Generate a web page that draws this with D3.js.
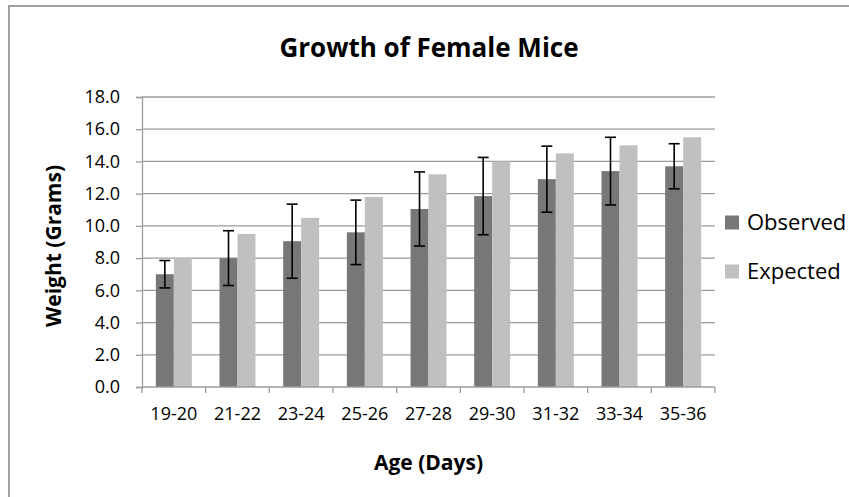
<!DOCTYPE html>
<html>
<head>
<meta charset="utf-8">
<script src="https://cdn.jsdelivr.net/npm/d3@7"></script>
<style>
  html, body { margin: 0; padding: 0; background: #fff; }
  svg { display: block; font-family: "Open Sans", sans-serif; }
</style>
</head>
<body>
<svg id="chart" width="849" height="497"></svg>
<script>
const categories = ["19-20", "21-22", "23-24", "25-26", "27-28", "29-30", "31-32", "33-34", "35-36"];
const observed = [7.0, 8.0, 9.05, 9.6, 11.05, 11.85, 12.9, 13.4, 13.7];
const expected = [8.0, 9.5, 10.5, 11.8, 13.2, 14.0, 14.5, 15.0, 15.5];
const observedError = [0.85, 1.7, 2.3, 2.0, 2.3, 2.4, 2.05, 2.1, 1.4];
const seriesNames = ["Observed", "Expected"];
const seriesColors = ["#777777", "#c0c0c0"];
const yTicks = [0, 2, 4, 6, 8, 10, 12, 14, 16, 18];

const svg = d3.select("#chart");
const W = 849, H = 497;
const plot = { left: 142, right: 715, top: 97, bottom: 387 };

// outer chart border (extends past the window on the right/bottom)
svg.append("rect")
  .attr("x", 9).attr("y", 6).attr("width", W + 20).attr("height", H + 20)
  .attr("fill", "none").attr("stroke", "#a0a0a0").attr("stroke-width", 2);

const x0 = d3.scaleBand().domain(categories).range([plot.left, plot.right]).paddingInner(0).paddingOuter(0);
const x1 = d3.scaleBand().domain(seriesNames).range([0, x0.bandwidth()]).paddingInner(0).paddingOuter(0.77);
const y = d3.scaleLinear().domain([0, 18]).range([plot.bottom, plot.top]);

// gridlines
svg.append("g").selectAll("line").data(yTicks.filter(d => d > 0)).join("line")
  .attr("x1", plot.left).attr("x2", plot.right)
  .attr("y1", d => y(d)).attr("y2", d => y(d))
  .attr("stroke", "#9c9c9c").attr("stroke-width", 1.3);

// y axis
const yAxis = svg.append("g").attr("transform", `translate(${plot.left},0)`)
  .call(d3.axisLeft(y).tickValues(yTicks).tickFormat(d3.format(".1f")).tickSize(6).tickPadding(16));
yAxis.select(".domain").attr("stroke", "#9c9c9c").attr("stroke-width", 1.3);
yAxis.selectAll(".tick line").attr("stroke", "#9c9c9c").attr("stroke-width", 1.3);
yAxis.selectAll(".tick text").attr("font-size", 18).attr("fill", "#000")
  .attr("font-family", "Open Sans");

// bars
const groups = svg.append("g").selectAll("g").data(categories).join("g")
  .attr("transform", d => `translate(${x0(d)},0)`);
groups.append("rect")
  .attr("x", x1("Observed")).attr("width", x1.bandwidth())
  .attr("y", (d, i) => y(observed[i])).attr("height", (d, i) => y(0) - y(observed[i]))
  .attr("fill", seriesColors[0]);
groups.append("rect")
  .attr("x", x1("Expected")).attr("width", x1.bandwidth())
  .attr("y", (d, i) => y(expected[i])).attr("height", (d, i) => y(0) - y(expected[i]))
  .attr("fill", seriesColors[1]);

// x axis
const xAxis = svg.append("g").attr("transform", `translate(0,${plot.bottom})`)
  .call(d3.axisBottom(x0).tickSize(0).tickPadding(20));
xAxis.select(".domain").remove();
xAxis.selectAll(".tick text").attr("font-size", 18).attr("fill", "#000").attr("font-family", "Open Sans");
svg.append("line").attr("x1", plot.left).attr("x2", plot.right)
  .attr("y1", plot.bottom).attr("y2", plot.bottom)
  .attr("stroke", "#9c9c9c").attr("stroke-width", 1.3);
const boundaries = categories.map(c => x0(c)).concat([x0(categories[categories.length - 1]) + x0.bandwidth()]);
svg.append("g").selectAll("line").data(boundaries).join("line")
  .attr("x1", d => d).attr("x2", d => d)
  .attr("y1", plot.bottom).attr("y2", plot.bottom + 6)
  .attr("stroke", "#9c9c9c").attr("stroke-width", 1.3);

// error bars
const eb = svg.append("g").selectAll("g").data(categories).join("g")
  .attr("transform", (d, i) => `translate(${x0(d) + x1("Observed") + x1.bandwidth() / 2},0)`);
eb.append("line")
  .attr("x1", 0).attr("x2", 0)
  .attr("y1", (d, i) => y(observed[i] + observedError[i]))
  .attr("y2", (d, i) => y(observed[i] - observedError[i]))
  .attr("stroke", "#000").attr("stroke-width", 1.6);
eb.append("line")
  .attr("x1", -5.5).attr("x2", 5.5)
  .attr("y1", (d, i) => y(observed[i] + observedError[i]))
  .attr("y2", (d, i) => y(observed[i] + observedError[i]))
  .attr("stroke", "#000").attr("stroke-width", 1.6);
eb.append("line")
  .attr("x1", -5.5).attr("x2", 5.5)
  .attr("y1", (d, i) => y(observed[i] - observedError[i]))
  .attr("y2", (d, i) => y(observed[i] - observedError[i]))
  .attr("stroke", "#000").attr("stroke-width", 1.6);

// title
svg.append("text").attr("x", 429).attr("y", 57).attr("text-anchor", "middle")
  .attr("font-size", 26).attr("font-weight", "bold").attr("fill", "#000")
  .text("Growth of Female Mice");

// axis titles
svg.append("text").attr("x", (plot.left + plot.right) / 2).attr("y", 470).attr("text-anchor", "middle")
  .attr("font-size", 21).attr("font-weight", "bold").attr("fill", "#000")
  .text("Age (Days)");
svg.append("text").attr("transform", "translate(61,246) rotate(-90)").attr("text-anchor", "middle")
  .attr("font-size", 21).attr("font-weight", "bold").attr("fill", "#000")
  .text("Weight (Grams)");

// legend
const legendY = [222.5, 271.5];
const legend = svg.append("g").selectAll("g").data(seriesNames).join("g")
  .attr("transform", (d, i) => `translate(725,${legendY[i]})`);
legend.append("rect").attr("x", 0).attr("y", -7).attr("width", 14).attr("height", 14)
  .attr("fill", (d, i) => seriesColors[i]);
legend.append("text").attr("x", 22).attr("y", 0).attr("dy", "0.36em")
  .attr("font-size", 22).attr("fill", "#000").text(d => d);
</script>
</body>
</html>
